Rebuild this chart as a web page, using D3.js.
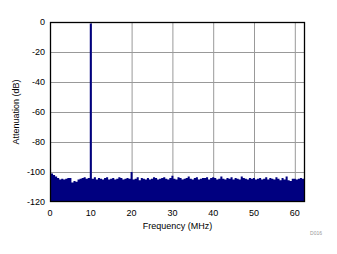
<!DOCTYPE html>
<html><head><meta charset="utf-8">
<script src="https://cdn.jsdelivr.net/npm/d3@7"></script>
<style>body{margin:0;background:#fff}svg{display:block}text{font-family:"Liberation Sans",Arial,sans-serif}</style>
</head><body>
<svg id="c" width="337" height="254"></svg>
<script>
const xTicks = [0,10,20,30,40,50,60];
const yTicks = [0,-20,-40,-60,-80,-100,-120];
const binStep = 0.5;
const seg0 = [-98,-101,-102,-103,-104,-105,-104.5,-105,-104.5,-104,-104,-107,-106,-106.5,-105,-104.5,-104,-103.5,-104.5,-104];
const seg1 = [-1,-104.5,-103.5,-105,-104,-104.5,-105,-104,-103.5,-105,-104.5,-104,-105,-104.5,-103.5,-104,-105,-104.5,-104,-104.5];
const seg2 = [-100,-105,-104.5,-103.5,-105.5,-104,-104.5,-105,-104,-105,-104.5,-103.5,-104,-105,-104.5,-104,-103.5,-104.5,-105,-104];
const seg3 = [-102.5,-104.5,-105,-103.5,-104,-105,-104.5,-104,-103,-104.5,-105,-104,-103.5,-105,-104.5,-104,-104,-103.5,-105,-104];
const seg4 = [-103.5,-104,-105,-104.5,-103,-104.5,-105,-104,-104.5,-103.5,-105,-104,-104.5,-105,-103,-104,-104.5,-105,-104,-104.5];
const seg5 = [-104,-105,-104.5,-104,-105,-104.5,-103.5,-105,-104,-104.5,-105,-103.5,-104.5,-105.5,-104,-105,-103,-105.5,-106,-104.5,-104.5,-105,-104.5,-104,-104.5,-104];
const levels = [].concat(seg0,seg1,seg2,seg3,seg4,seg5);

const svg = d3.select("#c");
const L=50,T=22,R=305,B=202;
const x = d3.scaleLinear().domain([0,62.5]).range([L,R]);
const y = d3.scaleLinear().domain([-120,0]).range([B,T]);

svg.append("defs").append("clipPath").attr("id","cp").append("rect").attr("x",L).attr("y",T).attr("width",R-L).attr("height",B-T);

// grid
svg.append("g").selectAll("line").data(xTicks.filter(d=>d>0)).join("line")
  .attr("x1",d=>x(d)+0.5).attr("x2",d=>x(d)+0.5).attr("y1",T).attr("y2",B).attr("stroke","#999").attr("stroke-width",1);
svg.append("g").selectAll("line").data(yTicks.filter(d=>d>-120&&d<0)).join("line")
  .attr("y1",d=>y(d)+0.5).attr("y2",d=>y(d)+0.5).attr("x1",L).attr("x2",R).attr("stroke","#999").attr("stroke-width",1);

// spectrum as a stepped area
const pts = levels.map((d,i)=>({f:i*binStep-binStep/2, v:d}));
pts.push({f:levels.length*binStep-binStep/2, v:levels[levels.length-1]});
const area = d3.area().curve(d3.curveStepAfter).x(d=>x(d.f)).y0(y(-120)).y1(d=>y(d.v));
svg.append("path").attr("clip-path","url(#cp)").datum(pts).attr("d",area).attr("fill","#000080");

// frame
svg.append("rect").attr("x",L+0.5).attr("y",T+0.5).attr("width",R-L-1).attr("height",B-T-1)
  .attr("fill","none").attr("stroke","#000").attr("stroke-width",1.3);

// tick labels
svg.append("g").selectAll("text").data(yTicks).join("text")
  .attr("x",L-5).attr("y",d=>y(d)+3).attr("text-anchor","end").attr("font-size",9).attr("fill","#000").text(d=>d);
svg.append("g").selectAll("text").data(xTicks).join("text")
  .attr("x",d=>x(d)).attr("y",B+14).attr("text-anchor","middle").attr("font-size",9).attr("fill","#000").text(d=>d);

svg.append("text").attr("x",(L+R)/2).attr("y",229).attr("text-anchor","middle").attr("font-size",9).text("Frequency (MHz)");
svg.append("text").attr("transform","translate(19,"+((T+B)/2)+") rotate(-90)").attr("text-anchor","middle").attr("font-size",9).text("Attenuation (dB)");
svg.append("text").attr("x",316).attr("y",235).attr("text-anchor","middle").attr("font-size",5).attr("fill","#999").text("D016");
</script>
</body></html>
